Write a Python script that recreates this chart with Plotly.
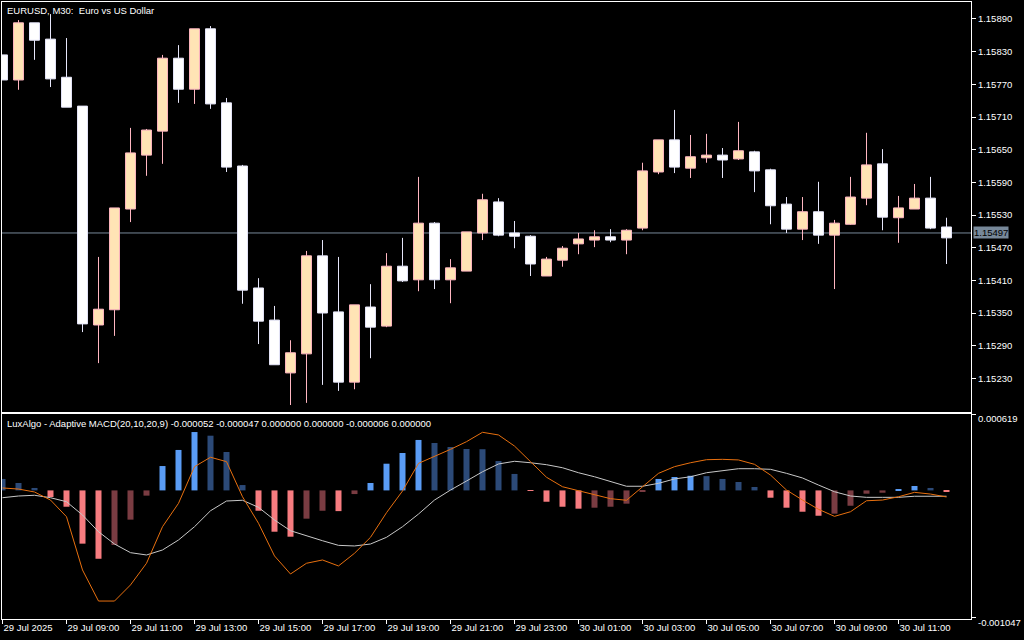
import plotly.graph_objects as go

# ---------------- data (EURUSD M30, 29 Jul 07:00 .. 30 Jul 12:30) ----------------
tick_pos = [0, 4, 8, 12, 16, 20, 24, 28, 32, 36, 40, 44, 48, 52, 56]
tick_labels = ["29 Jul 2025", "29 Jul 09:00", "29 Jul 11:00", "29 Jul 13:00", "29 Jul 15:00",
               "29 Jul 17:00", "29 Jul 19:00", "29 Jul 21:00", "29 Jul 23:00", "30 Jul 01:00",
               "30 Jul 03:00", "30 Jul 05:00", "30 Jul 07:00", "30 Jul 09:00", "30 Jul 11:00"]

opens = [1.15824, 1.15778, 1.15883, 1.15853, 1.15783, 1.15730, 1.15328, 1.15356, 1.15541, 1.15640,
         1.15684, 1.15818, 1.15761, 1.15872, 1.15736, 1.15620, 1.15396, 1.15337, 1.15240, 1.15275,
         1.15455, 1.15352, 1.15223, 1.15361, 1.15326, 1.15436, 1.15411, 1.15515, 1.15411, 1.15427,
         1.15497, 1.15554, 1.15497, 1.15491, 1.15418, 1.15447, 1.15477, 1.15484, 1.15490, 1.15484,
         1.15506, 1.15609, 1.15668, 1.15616, 1.15635, 1.15640, 1.15633, 1.15646, 1.15613, 1.15550,
         1.15504, 1.15536, 1.15493, 1.15513, 1.15561, 1.15624, 1.15525, 1.15541, 1.15561, 1.15508]
closes = [1.15778, 1.15883, 1.15851, 1.15780, 1.15728, 1.15330, 1.15357, 1.15543, 1.15644, 1.15686,
          1.15818, 1.15761, 1.15872, 1.15734, 1.15618, 1.15392, 1.15335, 1.15255, 1.15277, 1.15455,
          1.15350, 1.15223, 1.15365, 1.15324, 1.15436, 1.15409, 1.15515, 1.15411, 1.15433, 1.15499,
          1.15558, 1.15493, 1.15491, 1.15440, 1.15449, 1.15469, 1.15486, 1.15490, 1.15484, 1.15502,
          1.15611, 1.15668, 1.15618, 1.15637, 1.15640, 1.15631, 1.15648, 1.15611, 1.15547, 1.15504,
          1.15536, 1.15493, 1.15515, 1.15563, 1.15622, 1.15526, 1.15543, 1.15561, 1.15506, 1.15488]
highs = [1.15824, 1.15888, 1.15883, 1.15899, 1.15855, 1.15730, 1.15453, 1.15543, 1.15690, 1.15688,
         1.15824, 1.15842, 1.15872, 1.15877, 1.15745, 1.15622, 1.15414, 1.15363, 1.15300, 1.15464,
         1.15484, 1.15453, 1.15365, 1.15403, 1.15460, 1.15488, 1.15600, 1.15517, 1.15449, 1.15499,
         1.15569, 1.15561, 1.15519, 1.15493, 1.15453, 1.15473, 1.15497, 1.15502, 1.15504, 1.15504,
         1.15626, 1.15668, 1.15723, 1.15677, 1.15679, 1.15653, 1.15701, 1.15648, 1.15615, 1.15563,
         1.15563, 1.15591, 1.15521, 1.15600, 1.15681, 1.15651, 1.15565, 1.15587, 1.15600, 1.15525]
lows = [1.15778, 1.15760, 1.15815, 1.15765, 1.15728, 1.15315, 1.15258, 1.15308, 1.15517, 1.15602,
        1.15624, 1.15736, 1.15734, 1.15725, 1.15609, 1.15367, 1.15293, 1.15255, 1.15181, 1.15185,
        1.15218, 1.15207, 1.15210, 1.15267, 1.15324, 1.15407, 1.15390, 1.15394, 1.15368, 1.15427,
        1.15484, 1.15491, 1.15469, 1.15418, 1.15418, 1.15435, 1.15458, 1.15471, 1.15480, 1.15458,
        1.15502, 1.15605, 1.15607, 1.15598, 1.15626, 1.15598, 1.15631, 1.15572, 1.15513, 1.15497,
        1.15484, 1.15477, 1.15394, 1.15512, 1.15548, 1.15502, 1.15479, 1.15541, 1.15504, 1.15440]
bid_price = 1.15497
price_ticks = [1.15230, 1.15290, 1.15350, 1.15410, 1.15470, 1.15530,
               1.15590, 1.15650, 1.15710, 1.15770, 1.15830, 1.15890]

hist = [0.000094, 0.000061, 0.000020, -0.000054, -0.000134, -0.000437, -0.000561, -0.000448, -0.000240, -0.000043,
        0.000200, 0.000332, 0.000479, 0.000449, 0.000315, 0.000044, -0.000167, -0.000339, -0.000380, -0.000232,
        -0.000167, -0.000170, -0.000030, 0.000061, 0.000219, 0.000307, 0.000414, 0.000389, 0.000356, 0.000340,
        0.000338, 0.000241, 0.000135, -0.000004, -0.000093, -0.000134, -0.000150, -0.000142, -0.000134, -0.000109,
        -0.000011, 0.000094, 0.000110, 0.000120, 0.000117, 0.000094, 0.000069, 0.000028, -0.000060, -0.000142,
        -0.000175, -0.000208, -0.000191, -0.000126, -0.000027, -0.000019, 0.000005, 0.000036, 0.000020, -0.000006]
macd = [0.000020, 0.000011, -0.000013, -0.000079, -0.000216, -0.000653, -0.000908, -0.000908, -0.000776, -0.000598,
        -0.000298, -0.000106, 0.000195, 0.000272, 0.000236, -0.000052, -0.000270, -0.000538, -0.000686, -0.000598,
        -0.000571, -0.000620, -0.000516, -0.000385, -0.000183, -0.000005, 0.000222, 0.000277, 0.000337, 0.000400,
        0.000477, 0.000455, 0.000364, 0.000236, 0.000108, 0.000030, -0.000002, -0.000038, -0.000068, -0.000081,
        0.000030, 0.000140, 0.000195, 0.000227, 0.000252, 0.000255, 0.000250, 0.000214, 0.000126, 0.000003,
        -0.000079, -0.000155, -0.000213, -0.000175, -0.000085, -0.000079, -0.000052, -0.000016, -0.000030, -0.000054]
signal = [-0.000060, -0.000046, -0.000040, -0.000060, -0.000093, -0.000202, -0.000339, -0.000440, -0.000511, -0.000530,
          -0.000489, -0.000407, -0.000298, -0.000167, -0.000087, -0.000081, -0.000139, -0.000243, -0.000331, -0.000374,
          -0.000413, -0.000451, -0.000456, -0.000440, -0.000385, -0.000298, -0.000194, -0.000079, 0.000003, 0.000077,
          0.000153, 0.000217, 0.000239, 0.000227, 0.000211, 0.000186, 0.000145, 0.000112, 0.000071, 0.000034,
          0.000034, 0.000058, 0.000094, 0.000112, 0.000145, 0.000162, 0.000178, 0.000178, 0.000173, 0.000140,
          0.000102, 0.000044, -0.000011, -0.000046, -0.000057, -0.000057, -0.000057, -0.000048, -0.000048, -0.000048]
ind_ticks = [0.000619, -0.001047]

# ---------------- styles ----------------
FONT = "Liberation Sans, Arial, sans-serif"
FS = 9.5
BULL_FILL, BULL_LINE = "#FFE4B5", "#FFB6C1"
BEAR_FILL, BEAR_LINE = "#FFFFFF", "#E6E6FA"
C_UP_RISE, C_UP_FALL = "#5A9CF5", "#2C4A78"
C_DN_FALL, C_DN_RISE = "#F77C80", "#7A3C42"

idx = list(range(len(opens)))
bull = [c >= o for o, c in zip(opens, closes)]

fig = go.Figure()

# wicks
for flag, col in ((True, BULL_LINE), (False, BEAR_LINE)):
    xs, ys = [], []
    for i in idx:
        if bull[i] != flag:
            continue
        top, bot = max(opens[i], closes[i]), min(opens[i], closes[i])
        xs += [i, i, None, i, i, None]
        ys += [highs[i], top, None, bot, lows[i], None]
    fig.add_trace(go.Scatter(x=xs, y=ys, mode="lines", line=dict(color=col, width=1),
                             xaxis="x", yaxis="y", hoverinfo="skip"))

# bodies
fig.add_trace(go.Bar(
    x=idx,
    y=[max(abs(c - o), 0.000005) for o, c in zip(opens, closes)],
    base=[min(o, c) for o, c in zip(opens, closes)],
    width=0.62,
    marker=dict(color=[BULL_FILL if b else BEAR_FILL for b in bull],
                line=dict(color=[BULL_LINE if b else BEAR_LINE for b in bull], width=1)),
    xaxis="x", yaxis="y", hoverinfo="skip"))

# histogram colours (rising / falling, above / below zero)
hcols = []
for i, v in enumerate(hist):
    rising = i > 0 and v > hist[i - 1]
    if v >= 0:
        hcols.append(C_UP_RISE if rising else C_UP_FALL)
    else:
        hcols.append(C_DN_RISE if rising else C_DN_FALL)

fig.add_trace(go.Bar(x=idx, y=hist, width=0.375, marker=dict(color=hcols, line=dict(width=0)),
                     xaxis="x2", yaxis="y2", hoverinfo="skip"))
fig.add_trace(go.Scatter(x=idx, y=signal, mode="lines", line=dict(color="#C8C8C8", width=1),
                         xaxis="x2", yaxis="y2", hoverinfo="skip"))
fig.add_trace(go.Scatter(x=idx, y=macd, mode="lines", line=dict(color="#E8700F", width=1),
                         xaxis="x2", yaxis="y2", hoverinfo="skip"))

xr = [-0.03125, 60.53125]
axis_common = dict(showgrid=False, zeroline=False, showline=True, mirror=True, automargin=False,
                   linecolor="white", linewidth=1, tickcolor="white",
                   tickfont=dict(family=FONT, size=FS, color="white"))

annotations = [
    dict(text="EURUSD, M30:\u00a0 Euro vs US Dollar", xref="paper", yref="paper", x=0, y=1,
         xanchor="left", yanchor="middle", xshift=3, yshift=-8, showarrow=False,
         font=dict(family=FONT, size=FS, color="white")),
    dict(text="LuxAlgo - Adaptive MACD(20,10,20,9) -0.000052 -0.000047 0.000000 0.000000 -0.000006 0.000000",
         xref="paper", yref="y2 domain", x=0, y=1, xanchor="left", yanchor="middle",
         xshift=3, yshift=-9, showarrow=False, font=dict(family=FONT, size=FS, color="white")),
    dict(text="%.5f" % bid_price, xref="paper", yref="y", x=1, y=bid_price, xanchor="left",
         yanchor="middle", xshift=2, showarrow=False, bgcolor="#778899", borderpad=0,
         font=dict(family=FONT, size=FS, color="black")),
]
# indicator scale labels (max sits just below its tick, min just above)
for v, sh in zip(ind_ticks, (-4, -5)):
    annotations.append(dict(text="%.6f" % v, xref="paper", yref="y2", x=1, y=v, xanchor="left",
                            yanchor="middle", xshift=5, yshift=sh, showarrow=False,
                            font=dict(family=FONT, size=FS, color="white")))

fig.update_layout(
    width=1024, height=640, autosize=False,
    paper_bgcolor="black", plot_bgcolor="black",
    margin=dict(l=2, r=53, t=2, b=21, pad=0),
    showlegend=False, hovermode=False, barmode="overlay",
    font=dict(family=FONT, size=FS, color="white"),
    xaxis=dict(domain=[0, 1], anchor="y", range=xr, showticklabels=False, ticks="", **axis_common),
    yaxis=dict(domain=[0.33549, 1], anchor="x", side="right", range=[1.151682, 1.159212],
               tickvals=price_ticks, tickformat=".5f", ticks="outside", ticklen=4, **axis_common),
    xaxis2=dict(domain=[0, 1], anchor="y2", matches="x", range=xr, tickvals=tick_pos, ticktext=tick_labels,
                ticks="outside", ticklen=4, ticklabelposition="outside right", **axis_common),
    yaxis2=dict(domain=[0, 0.33225], anchor="x2", side="right", range=[-0.0010554, 0.000627],
                tickvals=ind_ticks, showticklabels=False, ticks="outside", ticklen=4, **axis_common),
    shapes=[dict(type="line", xref="x domain", x0=0, x1=1, yref="y", y0=bid_price, y1=bid_price,
                 line=dict(color="#778899", width=1), layer="below")],
    annotations=annotations,
)

fig.write_html("out.html", config={"displayModeBar": False},
               post_script="document.body.style.margin='0';document.body.style.background='black';")
